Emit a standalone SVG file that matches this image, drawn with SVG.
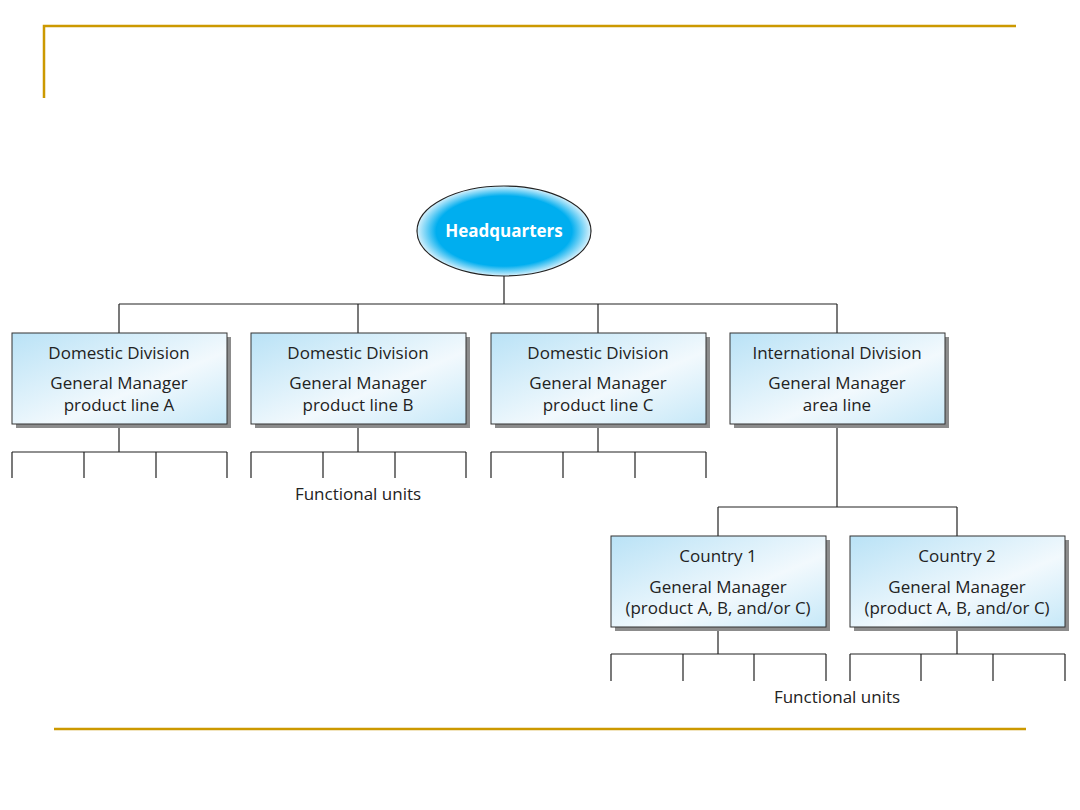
<svg xmlns="http://www.w3.org/2000/svg" width="1080" height="810" viewBox="0 0 1080 810">
<style>
.frame{stroke:#CC9900;stroke-width:2.5;fill:none}
.ln{stroke:#222;stroke-width:1.2;fill:none}
.box{fill:url(#boxg);stroke:#333;stroke-width:1}
.sh{fill:#8c8c8c}
.t{font-family:"Open Sans","Liberation Sans",sans-serif;font-size:17px;fill:#222;text-anchor:middle}
.hq{font-family:"Open Sans","Liberation Sans",sans-serif;font-size:17px;font-weight:bold;fill:#fff;text-anchor:middle}
</style>
<defs>
<linearGradient id="boxg" x1="0" y1="0" x2="1" y2="1">
<stop offset="0" stop-color="#b9e2f6"/>
<stop offset="0.6" stop-color="#f2f9fd"/>
<stop offset="1" stop-color="#c6e8f8"/>
</linearGradient>
<radialGradient id="hqg" cx="0.5" cy="0.5" r="0.5">
<stop offset="0" stop-color="#00aeef"/>
<stop offset="0.78" stop-color="#00aeef"/>
<stop offset="1" stop-color="#d8f1fc"/>
</radialGradient>
</defs>
<g id="frame">
<polyline class="frame" points="44,98 44,26 1016,26"/>
<line class="frame" x1="54" y1="729" x2="1026" y2="729"/>
</g>
<g id="connectors">
<path class="ln" d="M504,276V304M119,304H837M119,304V333M358,304V333M598,304V333M837,304V333"/>
<path class="ln" d="M119,424V452M12,452H227M12,452V478M84,452V478M156,452V478M227,452V478"/>
<path class="ln" d="M358,424V452M251,452H466M251,452V478M323,452V478M395,452V478M466,452V478"/>
<path class="ln" d="M598,424V452M491,452H706M491,452V478M563,452V478M635,452V478M706,452V478"/>
<path class="ln" d="M837,424V507M718,507H957M718,507V536M957,507V536"/>
<path class="ln" d="M718,627V654M611,654H826M611,654V681M683,654V681M754,654V681M826,654V681"/>
<path class="ln" d="M957,627V654M850,654H1065M850,654V681M921,654V681M993,654V681M1065,654V681"/>
</g>
<g id="hq">
<ellipse cx="504" cy="231" rx="87" ry="45" fill="url(#hqg)" stroke="#222" stroke-width="1.2"/>
<text class="hq" x="504" y="237">Headquarters</text>
</g>
<g id="dom-a">
<rect class="sh" x="16" y="337" width="215" height="91"/>
<rect class="box" x="12" y="333" width="215" height="91"/>
<text class="t" x="119" y="359">Domestic Division</text>
<text class="t" x="119" y="389">General Manager</text>
<text class="t" x="119" y="411">product line A</text>
</g>
<g id="dom-b">
<rect class="sh" x="255" y="337" width="215" height="91"/>
<rect class="box" x="251" y="333" width="215" height="91"/>
<text class="t" x="358" y="359">Domestic Division</text>
<text class="t" x="358" y="389">General Manager</text>
<text class="t" x="358" y="411">product line B</text>
</g>
<g id="dom-c">
<rect class="sh" x="495" y="337" width="215" height="91"/>
<rect class="box" x="491" y="333" width="215" height="91"/>
<text class="t" x="598" y="359">Domestic Division</text>
<text class="t" x="598" y="389">General Manager</text>
<text class="t" x="598" y="411">product line C</text>
</g>
<g id="intl">
<rect class="sh" x="734" y="337" width="215" height="91"/>
<rect class="box" x="730" y="333" width="215" height="91"/>
<text class="t" x="837" y="359">International Division</text>
<text class="t" x="837" y="389">General Manager</text>
<text class="t" x="837" y="411">area line</text>
</g>
<g id="country1">
<rect class="sh" x="615" y="540" width="215" height="91"/>
<rect class="box" x="611" y="536" width="215" height="91"/>
<text class="t" x="718" y="562">Country 1</text>
<text class="t" x="718" y="593">General Manager</text>
<text class="t" x="718" y="614">(product A, B, and/or C)</text>
</g>
<g id="country2">
<rect class="sh" x="854" y="540" width="215" height="91"/>
<rect class="box" x="850" y="536" width="215" height="91"/>
<text class="t" x="957" y="562">Country 2</text>
<text class="t" x="957" y="593">General Manager</text>
<text class="t" x="957" y="614">(product A, B, and/or C)</text>
</g>
<g id="labels">
<text class="t" x="358" y="500">Functional units</text>
<text class="t" x="837" y="703">Functional units</text>
</g>
</svg>
